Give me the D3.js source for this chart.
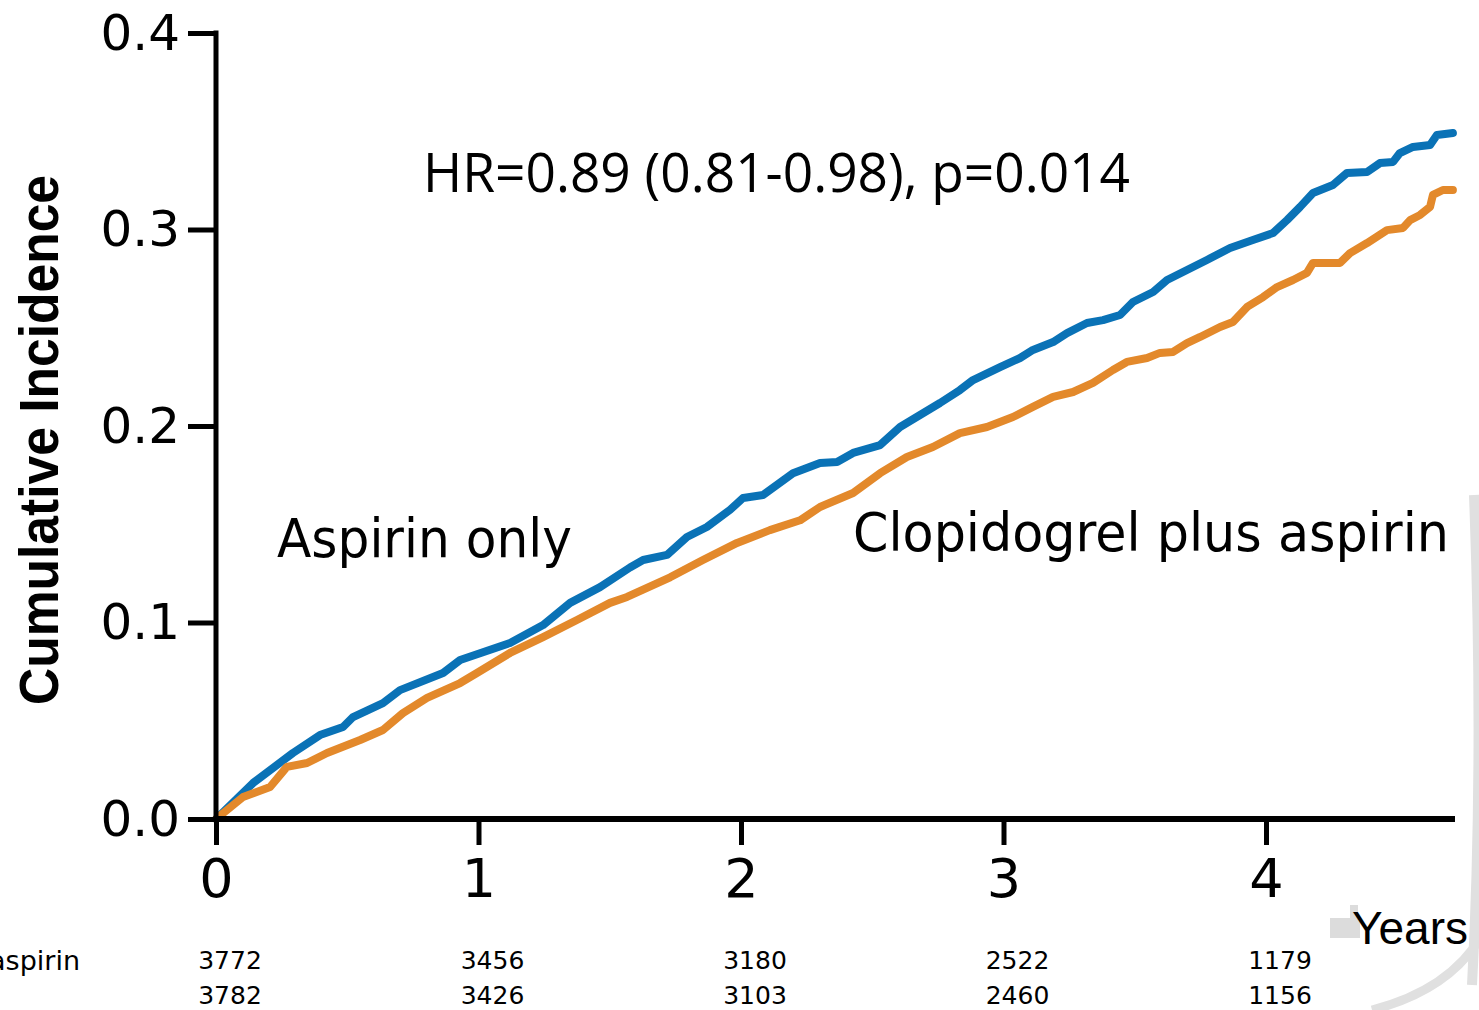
<!DOCTYPE html>
<html>
<head>
<meta charset="utf-8">
<script src="https://cdn.jsdelivr.net/npm/d3@7.9.0/dist/d3.min.js"></script>
<style>
  body { margin: 0; background: #fff; }
  svg { display: block; }
</style>
</head>
<body>
<div id="chart"></div>
<script>
// Cumulative incidence (years, incidence)
const blueTimes = [0, 0.141, 0.293, 0.396, 0.484, 0.522, 0.636, 0.701, 0.865, 0.93, 1.12, 1.246, 1.349, 1.463, 1.577,
  1.627, 1.718, 1.794, 1.87, 1.958, 2.008, 2.084, 2.198, 2.301, 2.366, 2.427, 2.53, 2.606, 2.682, 2.758, 2.834, 2.884,
  2.987, 3.063, 3.112, 3.189, 3.242, 3.318, 3.379, 3.444, 3.493, 3.57, 3.623, 3.699, 3.775, 3.863, 3.95, 4.027, 4.08,
  4.13, 4.179, 4.255, 4.309, 4.385, 4.434, 4.484, 4.51, 4.56, 4.625, 4.651, 4.712];
const blueValues = [0, 0.0183, 0.0336, 0.0427, 0.0468, 0.0519, 0.059, 0.0656, 0.0743, 0.0809, 0.0896, 0.0987, 0.11, 0.118, 0.128,
  0.1318, 0.1344, 0.1435, 0.1486, 0.1573, 0.1634, 0.1649, 0.176, 0.1812, 0.1817, 0.1863, 0.1903, 0.1995, 0.2056, 0.2117, 0.2183, 0.2234,
  0.230, 0.2346, 0.2387, 0.2427, 0.2473, 0.2524, 0.2539, 0.2565, 0.2631, 0.2682, 0.2743, 0.2794, 0.2845, 0.2906, 0.2947, 0.2982, 0.3048,
  0.3115, 0.3186, 0.3226, 0.3288, 0.3293, 0.3338, 0.3344, 0.3389, 0.342, 0.343, 0.3481, 0.3491];

const orangeTimes = [0, 0.103, 0.206, 0.27, 0.347, 0.423, 0.549, 0.636, 0.712, 0.804, 0.93, 0.994, 1.12, 1.246, 1.375, 1.501,
  1.566, 1.73, 1.855, 1.985, 2.11, 2.225, 2.301, 2.427, 2.53, 2.632, 2.731, 2.834, 2.937, 3.036, 3.112, 3.189, 3.265,
  3.341, 3.417, 3.47, 3.547, 3.596, 3.646, 3.699, 3.749, 3.825, 3.874, 3.928, 3.989, 4.042, 4.103, 4.156, 4.179, 4.282,
  4.32, 4.385, 4.461, 4.522, 4.549, 4.587, 4.625, 4.636, 4.674, 4.712];
const orangeValues = [0, 0.0112, 0.0163, 0.0265, 0.0285, 0.0336, 0.0402, 0.0453, 0.0539, 0.0616, 0.0692, 0.0743, 0.0845, 0.0926, 0.1013, 0.110,
  0.113, 0.123, 0.1318, 0.1405, 0.147, 0.152, 0.1588, 0.1659, 0.176, 0.1842, 0.1893, 0.1964, 0.1995, 0.2046, 0.2097, 0.2148, 0.2173,
  0.2219, 0.2285, 0.2326, 0.2346, 0.2372, 0.2377, 0.2422, 0.2453, 0.2504, 0.2529, 0.2606, 0.2656, 0.2707, 0.2743, 0.2779, 0.283, 0.283,
  0.288, 0.2931, 0.2997, 0.3008, 0.3048, 0.3074, 0.3115, 0.3176, 0.3201, 0.3201];

const yTicks = [0, 0.1, 0.2, 0.3, 0.4];
const xTicks = [0, 1, 2, 3, 4];
const atRiskTop = ["3772", "3456", "3180", "2522", "1179"];
const atRiskBottom = ["3782", "3426", "3103", "2460", "1156"];

const W = 1479, H = 1010;
const svg = d3.select("#chart").append("svg").attr("width", W).attr("height", H);

const x = d3.scaleLinear().domain([0, 4.72]).range([216, 1455]);
const y = d3.scaleLinear().domain([0, 0.4]).range([819, 33]);

// faint watermark along the right edge
const wm = svg.append("g").attr("fill", "none").attr("stroke", "#e0e0e0");
wm.append("path").attr("d", "M1474,495 Q1484,760 1472,985").attr("stroke-width", 10);
wm.append("path").attr("d", "M1482,935 Q1450,990 1372,1010").attr("stroke-width", 9);
svg.append("rect").attr("x", 1330).attr("y", 918).attr("width", 30).attr("height", 20).attr("fill", "#dcdcdc");
svg.append("rect").attr("x", 1350).attr("y", 905).attr("width", 8).attr("height", 33).attr("fill", "#dcdcdc");

const line = d3.line().x(d => x(d[0])).y(d => y(d[1]));
const series = [
  { times: blueTimes, values: blueValues, color: "#0a72b6" },
  { times: orangeTimes, values: orangeValues, color: "#e3892b" }
];
series.forEach(s => {
  svg.append("path")
    .datum(s.times.map((t, i) => [t, s.values[i]]))
    .attr("d", line)
    .attr("fill", "none")
    .attr("stroke", s.color)
    .attr("stroke-width", 8)
    .attr("stroke-linejoin", "round")
    .attr("stroke-linecap", "round");
});

// axes
const yAxis = svg.append("g").attr("transform", `translate(${x(0)},0)`)
  .call(d3.axisLeft(y).tickValues(yTicks).tickFormat(d3.format(".1f")).tickSize(28).tickPadding(8));
const xAxis = svg.append("g").attr("transform", `translate(0,${y(0)})`)
  .call(d3.axisBottom(x).tickValues(xTicks).tickFormat(d3.format("d")).tickSize(26).tickPadding(14));

[yAxis, xAxis].forEach(g => {
  g.select(".domain").remove();
  g.selectAll(".tick line").attr("stroke", "#000").attr("stroke-width", 5);
  g.selectAll(".tick text").attr("fill", "#000").style("font-family", "DejaVu Sans").style("font-size", "50px");
});
xAxis.selectAll(".tick text").style("font-size", "54px");

svg.append("line").attr("x1", x(0)).attr("x2", x(0)).attr("y1", y(0.4) - 2.5).attr("y2", y(0) + 3)
  .attr("stroke", "#000").attr("stroke-width", 5);
svg.append("line").attr("x1", x(0) - 2.5).attr("x2", 1455).attr("y1", y(0)).attr("y2", y(0))
  .attr("stroke", "#000").attr("stroke-width", 6);

// labels
svg.append("text")
  .attr("transform", "translate(58,440) rotate(-90)")
  .attr("text-anchor", "middle")
  .attr("textLength", 530).attr("lengthAdjust", "spacingAndGlyphs")
  .style("font-family", "Liberation Sans").style("font-size", "56px").style("font-weight", "bold")
  .text("Cumulative Incidence");

svg.append("text").attr("x", 423).attr("y", 192)
  .attr("textLength", 707).attr("lengthAdjust", "spacingAndGlyphs")
  .style("font-family", "Open Sans").style("font-size", "54px")
  .text("HR=0.89 (0.81-0.98), p=0.014");

svg.append("text").attr("x", 277).attr("y", 557)
  .attr("textLength", 295).attr("lengthAdjust", "spacingAndGlyphs")
  .style("font-family", "DejaVu Sans").style("font-size", "54px")
  .text("Aspirin only");

svg.append("text").attr("x", 853).attr("y", 551)
  .attr("textLength", 596).attr("lengthAdjust", "spacingAndGlyphs")
  .style("font-family", "DejaVu Sans").style("font-size", "54px")
  .text("Clopidogrel plus aspirin");

svg.append("text").attr("x", 1352).attr("y", 944)
  .style("font-family", "Liberation Sans").style("font-size", "46px")
  .text("Years");

// number at risk
const riskFont = g => g.style("font-family", "DejaVu Sans").style("font-size", "25px").attr("text-anchor", "middle");
svg.append("text").attr("x", 80).attr("y", 970).attr("text-anchor", "end")
  .style("font-family", "DejaVu Sans").style("font-size", "27px")
  .text("Clopidogrel plus aspirin");
svg.append("g").selectAll("text").data(atRiskTop).join("text")
  .attr("x", (d, i) => x(xTicks[i]) + 14).attr("y", 969).call(riskFont).text(d => d);
svg.append("g").selectAll("text").data(atRiskBottom).join("text")
  .attr("x", (d, i) => x(xTicks[i]) + 14).attr("y", 1004).call(riskFont).text(d => d);
</script>
</body>
</html>
